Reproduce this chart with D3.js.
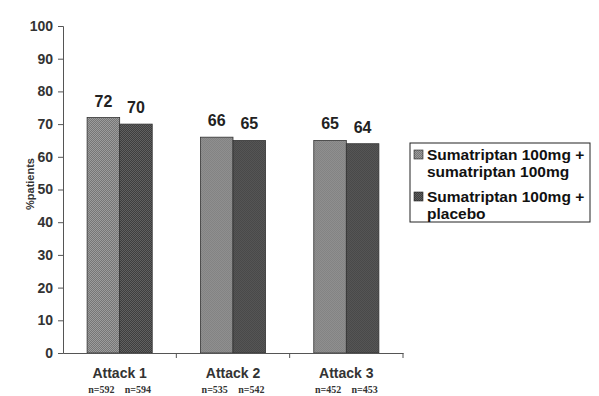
<!DOCTYPE html>
<html>
<head>
<meta charset="utf-8">
<script src="https://cdn.jsdelivr.net/npm/d3@7"></script>
<style>
  body { margin: 0; background: #fff; }
  svg { display: block; }
</style>
</head>
<body>
<svg id="chart" width="599" height="396"></svg>
<script>
// values
const attacks = ['Attack 1', 'Attack 2', 'Attack 3'];
const sumaSuma = [72, 66, 65];
const sumaPlacebo = [70, 65, 64];
const nSuma = [592, 535, 452];
const nPlacebo = [594, 542, 453];
const seriesNames = [
  ['Sumatriptan 100mg +', 'sumatriptan 100mg'],
  ['Sumatriptan 100mg +', 'placebo']
];
const yTicks = [0, 10, 20, 30, 40, 50, 60, 70, 80, 90, 100];

const svg = d3.select('#chart');
const margin = { left: 63, top: 26, right: 196, bottom: 43 };
const width = 599, height = 396;
const sans = 'Arial, "Liberation Sans", sans-serif';

// dotted fills, like the halftone bars in the scan
const defs = svg.append('defs');
const fills = [['#9c9c9c', '#767676'], ['#606060', '#3e3e3e']];
fills.forEach((c, i) => {
  const p = defs.append('pattern')
    .attr('id', 'fill' + i)
    .attr('width', 2).attr('height', 2)
    .attr('patternUnits', 'userSpaceOnUse');
  p.append('rect').attr('width', 2).attr('height', 2).attr('fill', c[0]);
  p.append('rect').attr('width', 1).attr('height', 1).attr('fill', c[1]);
  p.append('rect').attr('x', 1).attr('y', 1).attr('width', 1).attr('height', 1).attr('fill', c[1]);
});

const x = d3.scaleBand()
  .domain(attacks)
  .range([margin.left, width - margin.right]);

const inner = d3.scaleBand()
  .domain([0, 1])
  .range([0, x.bandwidth()])
  .paddingOuter(0.74)
  .paddingInner(0);

const y = d3.scaleLinear()
  .domain([0, 100])
  .range([height - margin.bottom, margin.top]);

const data = attacks.map((a, i) => ({
  attack: a,
  vals: [sumaSuma[i], sumaPlacebo[i]],
  ns: [nSuma[i], nPlacebo[i]]
}));

const groups = svg.selectAll('g.grp')
  .data(data)
  .enter()
  .append('g')
  .attr('class', 'grp')
  .attr('transform', d => `translate(${x(d.attack)},0)`);

groups.selectAll('rect')
  .data(d => d.vals.map((v, j) => ({ v, j })))
  .enter()
  .append('rect')
  .attr('x', d => inner(d.j))
  .attr('y', d => y(d.v))
  .attr('width', inner.bandwidth())
  .attr('height', d => y(0) - y(d.v))
  .attr('fill', d => `url(#fill${d.j})`)
  .attr('stroke', '#333')
  .attr('stroke-width', 0.8);

// value labels above bars
groups.selectAll('.val')
  .data(d => d.vals.map((v, j) => ({ v, j })))
  .enter()
  .append('text')
  .attr('class', 'val')
  .attr('x', d => inner(d.j) + inner.bandwidth() / 2)
  .attr('y', d => y(d.v) - 11)
  .attr('text-anchor', 'middle')
  .style('font', `bold 16px ${sans}`)
  .style('fill', '#222')
  .text(d => d.v);

// n under each bar
groups.selectAll('.n')
  .data(d => d.ns.map((n, j) => ({ n, j })))
  .enter()
  .append('text')
  .attr('class', 'n')
  .attr('x', d => inner(d.j) + inner.bandwidth() / 2 + (d.j === 0 ? -2 : 2))
  .attr('y', 393)
  .attr('text-anchor', 'middle')
  .style('font', 'bold 10px "Times New Roman", "Liberation Serif", serif')
  .style('fill', '#333')
  .text(d => 'n=' + d.n);

// Y axis
const yAxis = svg.append('g')
  .attr('transform', `translate(${margin.left},0)`)
  .call(d3.axisLeft(y).tickValues(yTicks).tickSize(5).tickPadding(5));
yAxis.selectAll('text')
  .style('font', `bold 14px ${sans}`)
  .style('fill', '#333');
yAxis.selectAll('line, path').attr('stroke', '#555');

// X axis, ticks between categories
const xAxis = svg.append('g')
  .attr('transform', `translate(0,${y(0)})`)
  .call(d3.axisBottom(x).tickSize(0).tickPadding(15));
xAxis.select('path').attr('stroke', '#555');
xAxis.selectAll('text')
  .style('font', `bold 14px ${sans}`)
  .style('fill', '#333');
xAxis.selectAll('.sep')
  .data(attacks)
  .enter()
  .append('line')
  .attr('class', 'sep')
  .attr('x1', d => x(d) + x.bandwidth())
  .attr('x2', d => x(d) + x.bandwidth())
  .attr('y1', 0).attr('y2', 5)
  .attr('stroke', '#555');

svg.append('text')
  .attr('transform', 'translate(34,184) rotate(-90)')
  .attr('text-anchor', 'middle')
  .style('font', `bold 11px ${sans}`)
  .style('fill', '#333')
  .text('%patients');

// legend
const legend = svg.append('g').attr('transform', 'translate(410,143)');
legend.append('rect')
  .attr('width', 180).attr('height', 79)
  .attr('fill', '#fff').attr('stroke', '#222').attr('stroke-width', 1);
seriesNames.forEach((lines, i) => {
  const top = 17 + i * 42;
  legend.append('rect')
    .attr('x', 4).attr('y', top - 10)
    .attr('width', 9).attr('height', 9)
    .attr('fill', `url(#fill${i})`)
    .attr('stroke', '#222').attr('stroke-width', 0.6);
  lines.forEach((t, k) => {
    legend.append('text')
      .attr('x', 17)
      .attr('y', top + k * 17)
      .style('font', `bold 15.5px ${sans}`)
      .style('fill', '#111')
      .text(t);
  });
});
</script>
</body>
</html>
